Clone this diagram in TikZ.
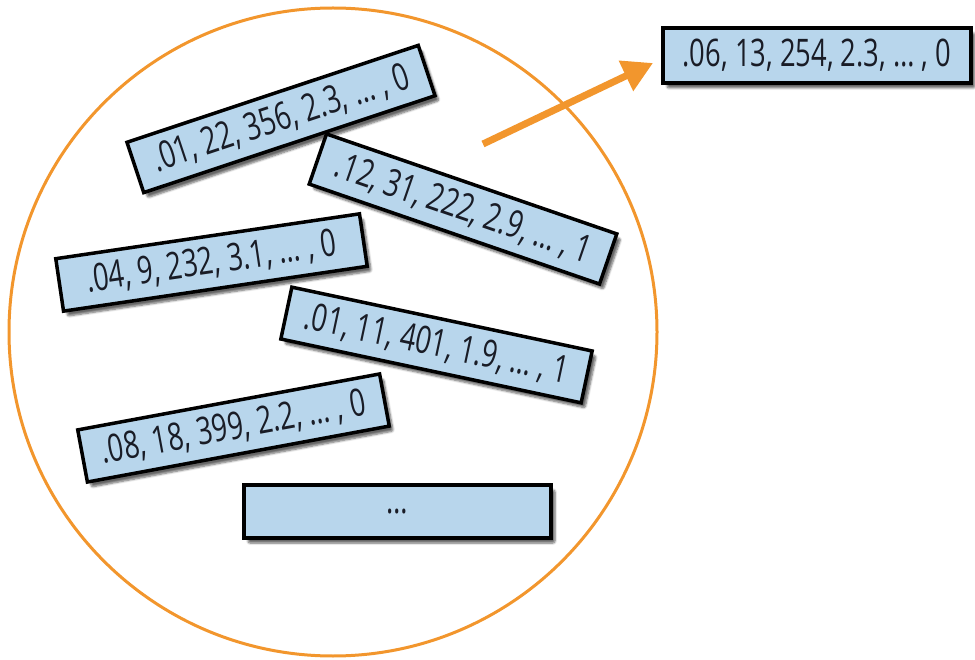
\documentclass[tikz,border=0pt]{standalone}
\usepackage{fontspec}
\setmainfont[FakeStretch=0.72]{Open Sans}
\usetikzlibrary{arrows.meta,shadows,shadows.blur}
\definecolor{ringorange}{RGB}{242,150,45}
\definecolor{cellblue}{RGB}{184,214,236}
\definecolor{inkdark}{RGB}{25,28,38}
\tikzset{
  vecbox/.style={draw=black, line width=3.5pt, fill=cellblue,
    minimum width=307pt, minimum height=53pt, inner sep=0pt,
    text=inkdark, font=\fontsize{38}{42}\selectfont,
    blur shadow={shadow xshift=4pt, shadow yshift=-5pt, shadow blur steps=6, shadow blur extra rounding=2pt, shadow opacity=60}},
  ring/.style={draw=ringorange, line width=3pt},
  pickarrow/.style={draw=ringorange, line width=7pt, -{Triangle[length=30pt,width=32pt]}}
}
\begin{document}
\begin{tikzpicture}[x=1pt,y=-1pt]
\useasboundingbox (0,0) rectangle (975,660);
\draw[ring] (333,332) circle[radius=324];
\node[vecbox, rotate=18.4] (r1) at (281,119) {.01, 22, 356, 2.3, \dots\ , 0};
\node[vecbox, rotate=-19] (r2) at (463,209) {.12, 31, 222, 2.9, \dots\ , 1};
\node[vecbox, rotate=8.4] (r3) at (211.5,262.5) {.04, 9, 232, 3.1, \dots\ , 0};
\node[vecbox, rotate=-12] (r4) at (436.5,345) {.01, 11, 401, 1.9, \dots\ , 1};
\node[vecbox, rotate=10.5] (r5) at (233.5,428) {.08, 18, 399, 2.2, \dots\ , 0};
\node[vecbox] (r6) at (397.5,511.5) {\dots};
\node[vecbox, minimum width=308pt, minimum height=55pt] (pick) at (817,55.5) {.06, 13, 254, 2.3, \dots\ , 0};
\coordinate (pickfrom) at (483,144);
\coordinate (pickto) at (653,63);
\draw[pickarrow] (pickfrom) -- (pickto);
\end{tikzpicture}
\end{document}
